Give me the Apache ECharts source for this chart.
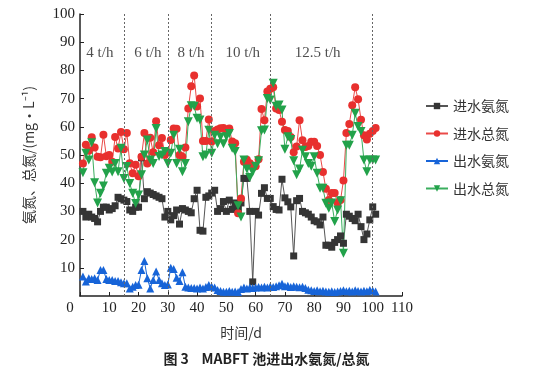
<!DOCTYPE html>
<html>
<head>
<meta charset="utf-8">
<script src="https://cdn.jsdelivr.net/npm/echarts@6/dist/echarts.min.js"></script>
<style>html,body{margin:0;padding:0;background:#fff}#c{width:533px;height:374px}</style>
</head>
<body>
<div id="c"></div>
<script>
const days = [1,2,3,4,5,6,7,8,9,10,11,12,13,14,15,16,17,18,19,20,21,22,23,24,25,26,27,28,29,30,31,32,33,34,35,36,37,38,39,40,41,42,43,44,45,46,47,48,49,50,51,52,53,54,55,56,57,58,59,60,61,62,63,64,65,66,67,68,69,70,71,72,73,74,75,76,77,78,79,80,81,82,83,84,85,86,87,88,89,90,91,92,93,94,95,96,97,98,99,100,101];
const inNH = [30,28,29,28,27.5,26.3,30,31.5,31.5,30.5,
31,32,35,34.5,34,33.5,30.5,30,31.5,31.5,
49,34.5,37,36.5,36,35.5,35,34.5,28,30,
27,28.5,30.5,25.5,31,30.5,30,29.5,34.5,37.5,
23.3,23,35,35.5,36.5,37.5,30,31,33.5,30,
34,30.7,33,31,33,41.7,41.7,30,5,30,
28.7,36.4,38.4,34.6,34.6,31.7,30.7,30.5,41.4,34.8,
33.4,31.6,14.2,33.8,34.6,30,29.5,29,28,26.7,
26.3,25.2,28,18,18,17.3,19,20,21.3,18.7,
29,28.3,27.5,26.7,29,24.6,20,22,27,31.6,
29];
const inTN = [47,53.6,51.5,56.3,52.7,49.4,49.2,57.2,49.6,50,
47.6,56.4,52.3,58.2,52,57.8,47.1,43.5,46.5,42.5,
49.4,57.8,47,56.1,51,62,53.5,56,50,51,
55.3,59.4,59.3,50,49.4,52.7,66.5,74.4,78.2,67.2,
70,55,55,62.6,54.8,58.5,59,59.5,59.6,58.8,
59.4,54.8,54.2,29.3,34.6,47.6,48.3,47.1,46,46,
48.5,66.3,62.3,72.5,73.5,74,66.5,66,61.8,58.9,
58.5,56.4,51,53,62.3,55.2,52.8,53.2,54.7,54.7,
53.2,50,44,38,34,36.5,36.5,33,34,41,
57.8,61,67.6,74,69.8,62.5,57,55.5,57.5,58.5,
59.6];
const outNH = [6.9,5.1,6.3,6,6.3,5.7,9.2,9.2,6,5.7,
5.7,5.3,5.3,4.9,4.5,4.5,2.7,3.3,3.9,4,
9.2,12.4,6.3,2.7,5.7,8.7,5.7,4.5,3.9,4.1,
10,9.6,6.5,5.3,8.4,3.3,3,2.8,2.8,2.7,
3,2.7,3.2,3.9,3.3,3,2.1,1.8,1.5,1.5,
1.8,1.5,1.6,1.4,2.5,3,2.7,3,2.8,3,
3.2,3,3.3,3,3.4,3.2,3.5,3.8,4.3,3.5,
3.6,3.2,3.5,3.3,3.1,3.3,2.8,2.2,2,1.8,
2,1.7,1.9,1.6,1.5,1.7,1.4,1.6,1.8,2,
1.7,1.9,1.6,2,1.8,1.6,1.9,1.7,2.1,1.9,
1.6];
const outTN = [43.7,50.6,48.2,54.3,40.2,33,36.4,39,43.5,45.3,
44,47,44.1,52.4,41.7,45.9,39.9,36.4,32.8,35.8,
43,50,55.3,48.2,47,59.4,49.5,50,51.2,47,
50.6,57,47,52,44.1,47,61.8,67.5,67.3,63,
62.4,49.4,50,58.8,50.6,57,54,56.4,54,56.5,
57.6,52.4,51.2,32,28,48.2,45,42,44,46,
48,58.6,58.9,70,69.5,75.4,67.3,67.7,66,52,
56.5,55.5,48,43,45,51.7,49.4,47,46,49.4,
43.5,38.2,38.2,32.9,31.1,33,26.4,30.5,33.8,15.2,
53.5,53.5,57,64.8,60.1,58.3,48.2,44.1,48.2,48.2,
48.2];
const seriesNames = ['进水氨氮','进水总氮','出水氨氮','出水总氮'];
const dividers = [15,30,45,65,100];
const periodLabels = ['4 t/h','6 t/h','8 t/h','10 t/h','12.5 t/h'];
const periodX = [6.8,23.2,37.9,55.6,81.2];
const periodY = 86;

const pairs = arr => days.map((d,i)=>[d,arr[i]]);
const serif = 'Liberation Serif';
const cjk = 'Noto Sans CJK SC';

const chart = echarts.init(document.getElementById('c'), null, {renderer:'canvas'});
const mk = (name, data, symbol, size, color, lineColor) => ({
  name, type:'line', data:pairs(data), symbol, symbolSize:size,
  itemStyle:{color}, lineStyle:{color:lineColor, width:1},
  showSymbol:true, z:3
});
chart.setOption({
  animation:false,
  backgroundColor:'#fff',
  title:{text:'图 3    MABFT 池进出水氨氮/总氮', left:'center', top:347,
    textStyle:{fontSize:14, fontWeight:'bold', color:'#222', fontFamily:cjk}},
  legend:{orient:'vertical', left:420, top:94, itemWidth:22, itemHeight:8, itemGap:13.5,
    data:seriesNames, textStyle:{fontSize:14, color:'#333', fontFamily:cjk, lineHeight:14}},
  grid:{left:80, top:14, width:322, height:282},
  xAxis:{type:'value', min:0, max:110, interval:10,
    axisLine:{lineStyle:{color:'#222', width:1.5}},
    axisTick:{inside:true, length:4, lineStyle:{color:'#222'}},
    splitLine:{show:false},
    axisLabel:{color:'#222', fontFamily:serif, fontSize:15, margin:5,
      formatter:v=> v===0 ? '{z|0}' : String(v),
      rich:{z:{padding:[0,20,0,0], fontFamily:serif, fontSize:15, color:'#222'}}},
    name:'时间/d', nameLocation:'middle', nameGap:30,
    nameTextStyle:{fontSize:14, color:'#333', fontFamily:cjk}},
  yAxis:{type:'value', min:0, max:100, interval:10,
    axisLine:{show:true, lineStyle:{color:'#222', width:1.5}},
    axisTick:{show:true, inside:true, length:4, lineStyle:{color:'#222'}},
    splitLine:{show:false},
    axisLabel:{showMinLabel:false, color:'#222', fontFamily:serif, fontSize:15, margin:5},
    name:'氨氮、总氮/(mg·L⁻¹)', nameLocation:'middle', nameGap:44, nameRotate:90,
    nameTextStyle:{fontSize:14, color:'#333', fontFamily:cjk}},
  series:[
    {name:'periods', type:'scatter', symbolSize:0, silent:true, z:1,
     data:periodX.map((x,i)=>[x,periodY,periodLabels[i]]),
     label:{show:true, position:'inside', formatter:p=>p.data[2], fontFamily:serif, fontSize:15, color:'#222'},
     markLine:{silent:true, symbol:['none','none'], label:{show:false},
       lineStyle:{type:[2,2], color:'#666', width:1},
       data:dividers.map(x=>({xAxis:x}))}},
    mk(seriesNames[0], inNH, 'rect', 7, '#353535', '#555'),
    mk(seriesNames[1], inTN, 'circle', 8, '#e8302e', '#ea4a48'),
    mk(seriesNames[2], outNH, 'triangle', 8, '#1764d8', '#1764d8'),
    mk(seriesNames[3], outTN, 'path://M0,0 L10,0 L5,9 Z', 9, '#22a24a', '#3aae5e')
  ]
});
</script>
</body>
</html>
